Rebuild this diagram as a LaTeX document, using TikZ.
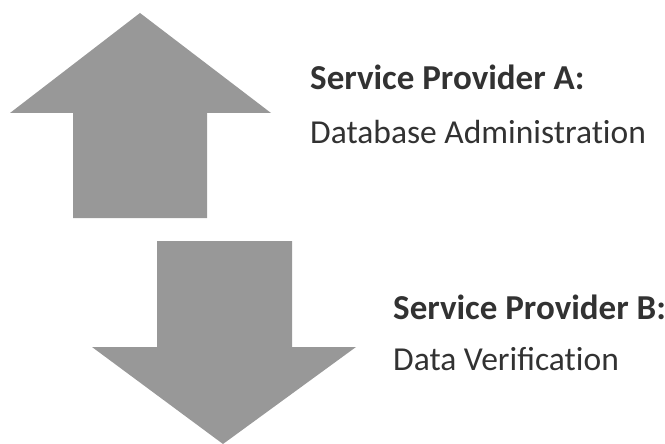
\documentclass[tikz,border=0pt]{standalone}
\usepackage{fontspec}
\setmainfont{Carlito}[Ligatures=NoCommon]
\begin{document}
\begin{tikzpicture}[x=1pt,y=-1pt,
  bigarrow/.style={fill=arrowgrey, draw=none},
  label/.style={anchor=base west, inner sep=0pt, text=textgrey, font=\fontsize{33.5}{40}\selectfont},
  title/.style={label, font=\bfseries\fontsize{35}{40}\selectfont}]
\definecolor{arrowgrey}{RGB}{152,152,152}
\definecolor{textgrey}{RGB}{50,50,50}
\useasboundingbox (0,0) rectangle (665,444);
\fill[bigarrow] (140,13) -- (271,113) -- (207,113) -- (207,218) -- (73,218) -- (73,113) -- (10,113) -- cycle;
\fill[bigarrow] (157,241) -- (292,241) -- (292,347) -- (356,347) -- (223,444) -- (92,347) -- (157,347) -- cycle;
\node[title] (sa) at (310,90) {Service Provider A:};
\node[label] (da) at (310,143) {Database Administration};
\node[title] (sb) at (393,319) {Service Provider B:};
\node[label] (db) at (393,370) {Data Veri\char"FB01 cation};
\end{tikzpicture}
\end{document}
